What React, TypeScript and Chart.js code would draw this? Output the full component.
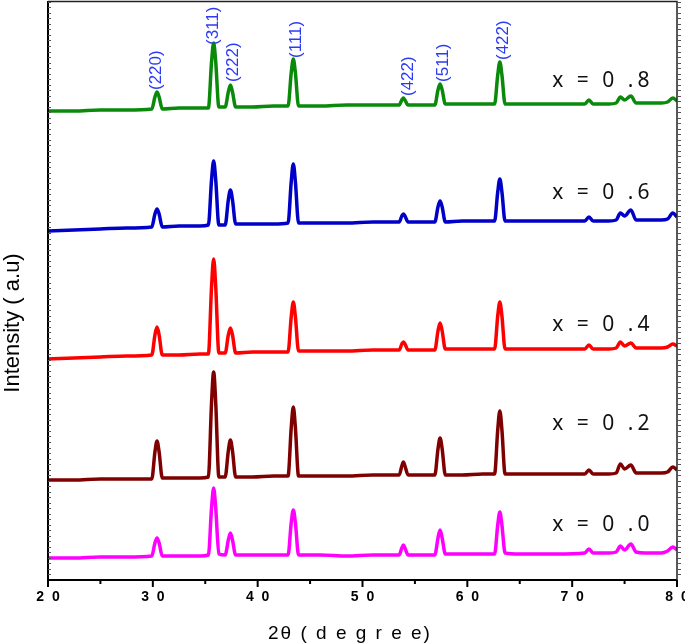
import React, { useEffect, useRef } from 'react';
import { Chart, registerables } from 'chart.js';

Chart.register(...registerables);

// 2θ grid (degrees) shared by all patterns
const twoTheta = [20, 22.5, 25, 27.5, 29.9, 30.2, 30.4, 30.6, 30.9, 32.5, 34.5, 35.3, 35.6, 35.8, 36.0, 36.3, 36.9, 37.2, 37.4, 37.6, 37.9, 39.5, 41.5, 42.9, 43.2, 43.4, 43.6, 43.9, 46, 48.5, 51, 53.5, 53.75, 53.9, 54.05, 54.35, 55.5, 56.9, 57.2, 57.4, 57.6, 57.9, 59.5, 61.5, 62.6, 62.9, 63.1, 63.3, 63.6, 65, 66.5, 68.5, 71.2, 71.6, 72.0, 73.5, 74.2, 74.6, 75.0, 75.6, 76.1, 77, 78.5, 79.1, 79.6, 80];

// Intensities (a.u., stacked with offsets)
const intensityX00 = [22, 22, 23, 23, 24, 37, 42, 37, 24, 24, 24, 25, 72, 92, 72, 26, 25, 40, 47, 40, 25, 25, 25, 25, 57, 70, 57, 25, 25, 24, 25, 25, 32, 35, 32, 25, 25, 25, 42, 50, 42, 26, 26, 26, 26, 55, 68, 55, 27, 26, 26, 26, 27, 31, 27, 27, 28, 34, 30, 36, 28, 27, 27, 29, 33, 30];
const intensityX02 = [100, 100, 101, 101, 101, 128, 139, 128, 102, 102, 102, 103, 177, 208, 177, 103, 103, 129, 140, 129, 103, 103, 104, 104, 152, 173, 152, 104, 104, 104, 105, 105, 114, 118, 114, 105, 105, 105, 131, 142, 131, 105, 105, 106, 106, 150, 169, 150, 106, 106, 106, 106, 106, 110, 106, 106, 107, 116, 111, 115, 107, 107, 107, 108, 113, 110];
const intensityX04 = [221, 222, 223, 224, 225, 245, 253, 245, 225, 225, 226, 226, 293, 321, 293, 227, 227, 245, 252, 245, 227, 228, 228, 228, 263, 278, 263, 229, 229, 229, 230, 230, 236, 238, 236, 230, 230, 230, 249, 257, 249, 231, 231, 231, 231, 264, 278, 264, 231, 231, 231, 231, 231, 235, 231, 231, 232, 238, 234, 237, 232, 232, 232, 233, 236, 234];
const intensityX06 = [349, 350, 351, 352, 353, 366, 371, 366, 353, 354, 354, 355, 400, 419, 400, 355, 355, 380, 390, 380, 356, 356, 356, 357, 398, 416, 398, 357, 357, 357, 358, 358, 364, 366, 364, 358, 358, 358, 373, 379, 373, 358, 359, 359, 359, 388, 401, 388, 359, 359, 359, 359, 359, 363, 359, 359, 360, 367, 364, 370, 360, 360, 360, 361, 367, 363];
const intensityX08 = [469, 469, 470, 470, 471, 483, 488, 483, 471, 472, 472, 472, 518, 537, 518, 473, 473, 488, 495, 488, 473, 473, 474, 474, 507, 521, 507, 474, 474, 475, 475, 475, 480, 482, 480, 475, 475, 475, 490, 496, 490, 476, 476, 476, 476, 505, 518, 505, 476, 476, 476, 476, 476, 480, 476, 476, 477, 483, 480, 484, 477, 477, 477, 478, 482, 479];

const seriesLabels = ['x = 0 .0', 'x = 0 .2', 'x = 0 .4', 'x = 0 .6', 'x = 0 .8'];
const seriesColors = ['#ff00ff', '#7f0000', '#ff0000', '#0000c8', '#0a8a0a'];
const seriesData = [intensityX00, intensityX02, intensityX04, intensityX06, intensityX08];
const labelTheta = 68.1;
const labelIntensity = [49, 150, 249, 381, 493];

const millerIndices = ['(220)', '(311)', '(222)', '(111)', '(422)', '(511)', '(422)'];
const millerTheta = [30.3, 35.76, 37.66, 43.66, 54.35, 57.7, 63.4];
const millerIntensity = [490, 535, 498, 522, 484, 498, 520];

const xTickValues = [20, 30, 40, 50, 60, 70, 80];
const xTickLabels = ['2  0', '3  0', '4  0', '5  0', '6  0', '7  0', '8  0'];
const xMinorTicks = [25, 35, 45, 55, 65, 75];

const xTitle = '2θ ( d e g r e e)';
const yTitle = 'Intensity ( a.u)';

const decorPlugin = {
  id: 'decor',
  afterDraw(chart: any) {
    const { ctx, chartArea: a, scales } = chart;
    const x = scales.x;
    const y = scales.y;
    ctx.save();
    // frame
    ctx.strokeStyle = '#000';
    ctx.lineWidth = 2;
    ctx.beginPath();
    ctx.moveTo(a.left, a.top);
    ctx.lineTo(a.left, a.bottom);
    ctx.lineTo(a.right, a.bottom);
    ctx.stroke();
    ctx.strokeStyle = '#222';
    ctx.lineWidth = 1.5;
    ctx.beginPath();
    ctx.moveTo(a.left, a.top + 0.5);
    ctx.lineTo(a.right, a.top + 0.5);
    ctx.lineTo(a.right, a.bottom);
    ctx.stroke();
    // x ticks
    ctx.strokeStyle = '#000';
    ctx.lineWidth = 2;
    xTickValues.forEach((v) => {
      const px = x.getPixelForValue(v);
      ctx.beginPath();
      ctx.moveTo(px, a.bottom);
      ctx.lineTo(px, a.bottom + 7);
      ctx.stroke();
    });
    xMinorTicks.forEach((v) => {
      const px = x.getPixelForValue(v);
      ctx.beginPath();
      ctx.moveTo(px, a.bottom);
      ctx.lineTo(px, a.bottom + 4);
      ctx.stroke();
    });
    // y minor ticks
    ctx.strokeStyle = '#555';
    ctx.lineWidth = 1;
    for (let v = 6; v < 579; v += 5.5) {
      const py = Math.round(y.getPixelForValue(v)) + 0.5;
      ctx.beginPath();
      ctx.moveTo(a.left, py);
      ctx.lineTo(a.left + 3, py);
      ctx.moveTo(a.right, py);
      ctx.lineTo(a.right + 4, py);
      ctx.stroke();
    }
    // series labels
    ctx.fillStyle = '#111';
    ctx.font = '21px "Noto Sans"';
    (ctx as any).letterSpacing = '4px';
    ctx.textAlign = 'left';
    ctx.textBaseline = 'alphabetic';
    seriesLabels.forEach((t, i) => {
      ctx.fillText(t, x.getPixelForValue(labelTheta), y.getPixelForValue(labelIntensity[i]));
    });
    (ctx as any).letterSpacing = '0px';
    // miller indices
    ctx.fillStyle = '#2b3bf5';
    ctx.font = '17px "Liberation Sans"';
    ctx.textBaseline = 'middle';
    millerIndices.forEach((t, i) => {
      ctx.save();
      ctx.translate(x.getPixelForValue(millerTheta[i]), y.getPixelForValue(millerIntensity[i]));
      ctx.rotate(-Math.PI / 2);
      ctx.textAlign = 'left';
      ctx.fillText(t, 0, 0);
      ctx.restore();
    });
    // axis titles
    ctx.fillStyle = '#000';
    ctx.font = '22px "Liberation Sans"';
    ctx.textBaseline = 'alphabetic';
    ctx.save();
    ctx.translate(19, 323);
    ctx.rotate(-Math.PI / 2);
    ctx.textAlign = 'center';
    ctx.fillText(yTitle, 0, 0);
    ctx.restore();
    ctx.font = '19px "Liberation Sans"';
    (ctx as any).letterSpacing = '2px';
    ctx.textAlign = 'center';
    ctx.fillText(xTitle, 350, 639);
    (ctx as any).letterSpacing = '0px';
    ctx.restore();
  },
};

export default function App() {
  const ref = useRef<HTMLCanvasElement | null>(null);
  useEffect(() => {
    if (!ref.current) return;
    const chart = new Chart(ref.current, {
      type: 'line',
      data: {
        datasets: seriesData.map((vals, i) => ({
          label: seriesLabels[i],
          data: twoTheta.map((t, j) => ({ x: t, y: vals[j] })),
          borderColor: seriesColors[i],
          backgroundColor: seriesColors[i],
          borderWidth: 3.5,
          pointRadius: 0,
          cubicInterpolationMode: 'monotone' as const,
          fill: false,
        })),
      },
      options: {
        animation: false,
        responsive: false,
        events: [],
        layout: { padding: { top: 1, right: 8, left: 0, bottom: 0 } },
        plugins: { legend: { display: false }, tooltip: { enabled: false } },
        scales: {
          x: {
            type: 'linear',
            min: 20,
            max: 80,
            afterBuildTicks: (s: any) => {
              s.ticks = xTickValues.map((v) => ({ value: v }));
            },
            ticks: {
              autoSkip: false,
              maxRotation: 0,
              padding: 9,
              color: '#000',
              font: { family: '"Liberation Sans", Arial, sans-serif', size: 14, weight: 'bold' },
              callback: (v: any) => {
                const k = xTickValues.indexOf(Number(v));
                return k >= 0 ? xTickLabels[k] : '';
              },
            },
            grid: { display: false, drawTicks: false },
            border: { display: false },
            afterFit: (s: any) => {
              s.height = 63;
              s.paddingLeft = 0;
              s.paddingRight = 0;
            },
          },
          y: {
            min: 0,
            max: 579,
            ticks: { display: false },
            grid: { display: false, drawTicks: false },
            border: { display: false },
            afterFit: (s: any) => {
              s.width = 48;
            },
          },
        },
      } as any,
      plugins: [decorPlugin],
    });
    return () => chart.destroy();
  }, []);
  return (
    <div style={{ position: 'fixed', left: 0, top: 0, width: 685, height: 643, background: '#fff' }}>
      <canvas ref={ref} width={685} height={643} style={{ display: 'block' }} />
    </div>
  );
}
